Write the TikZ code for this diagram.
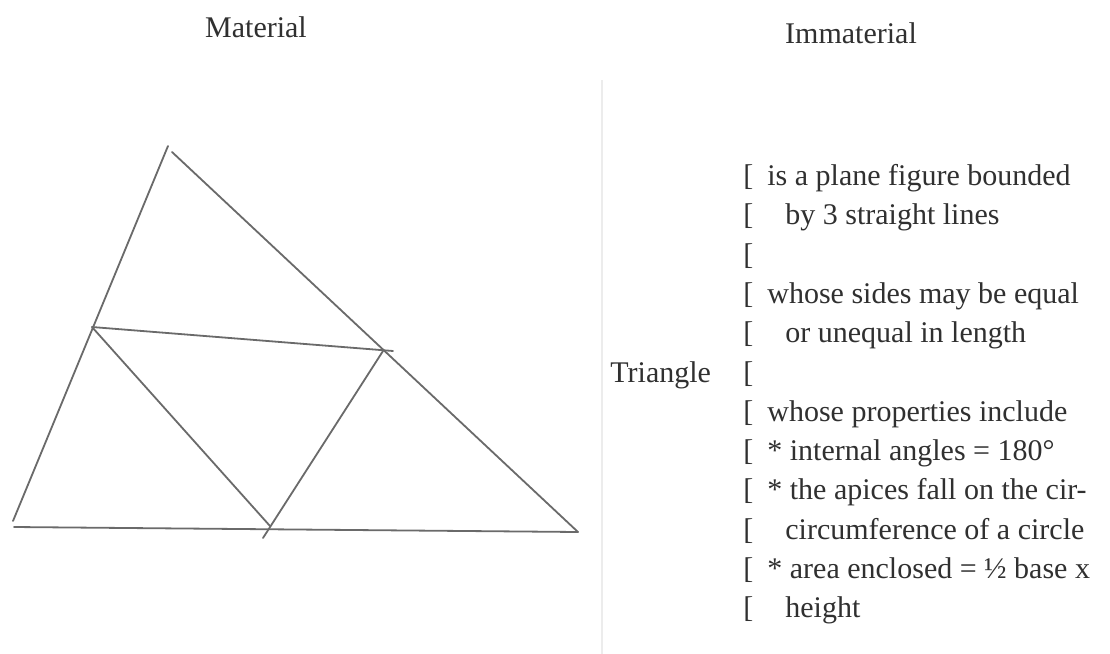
\documentclass[tikz,border=0pt]{standalone}
\usepackage{fontspec}
\setmainfont{Liberation Serif}
\usetikzlibrary{positioning}
\definecolor{trink}{HTML}{303030}
\definecolor{trpencil}{HTML}{6A6A6A}
\definecolor{trfold}{HTML}{ECECEC}
\tikzset{
  tr text/.style={font=\fontsize{15}{18}\selectfont, text=trink, inner sep=0pt},
  tr pencil/.style={draw=trpencil, line width=0.9pt, line cap=round},
  tr fold/.style={draw=trfold, line width=0.8pt}
}

\begin{document}
\begin{tikzpicture}[x=0.5pt, y=-0.5pt]
  \useasboundingbox[fill=white] (0,0) rectangle (1110,654);
  % column headings
  \node[tr text, anchor=base] (material) at (256,37) {Material};
  \node[tr text, anchor=base] (immaterial) at (851,43) {Immaterial};

  % pencil triangle with its mid-point triangle
  \coordinate (apex) at (168,146);
  \coordinate (apexr) at (172,152);
  \coordinate (left) at (13,521);
  \coordinate (baseleft) at (14,527);
  \coordinate (right) at (578,532);
  \coordinate (midl) at (92,327);
  \coordinate (midr) at (383,351);
  \coordinate (midrend) at (393,351);
  \coordinate (midb) at (270,526);
  \coordinate (midbend) at (263,538);
  \draw[tr pencil] (apex) -- (left);
  \draw[tr pencil] (apexr) -- (right);
  \draw[tr pencil] (baseleft) -- (right);
  \draw[tr pencil] (midl) -- (midrend);
  \draw[tr pencil] (midl) -- (midb);
  \draw[tr pencil] (midr) -- (midbend);

  % fold of the page
  \coordinate (foldtop) at (602,80);
  \coordinate (foldbot) at (602,654);
  \draw[tr fold] (foldtop) -- (foldbot);

  % definition column
  \node[tr text, anchor=base west] (term) at (610,382) {Triangle};
  \foreach \k in {0,...,11} {
    \node[tr text, anchor=base west] (br\k) at (743,185.5+39.3*\k) {[};
  }
  \foreach \k/\ind/\txt in {0/767/is a plane figure bounded,
      1/785/by 3 straight lines,
      3/767/whose sides may be equal,
      4/785/or unequal in length,
      6/767/whose properties include,
      7/767/* internal angles = 180°,
      8/767/* the apices fall on the cir-,
      9/785/circumference of a circle,
      10/767/* area enclosed = ½ base x,
      11/785/height} {
    \node[tr text, anchor=base west] (ln\k) at (\ind,185.5+39.3*\k) {\txt};
  }
\end{tikzpicture}
\end{document}
